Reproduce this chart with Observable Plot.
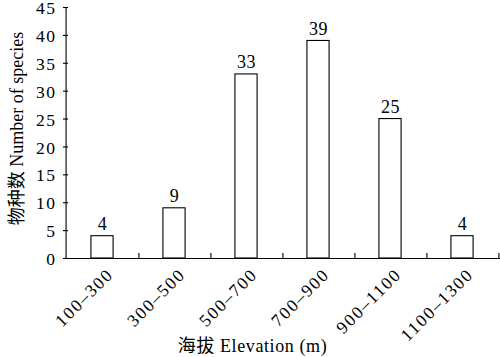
<!DOCTYPE html>
<html>
<head>
<meta charset="utf-8">
<script src="https://cdn.jsdelivr.net/npm/d3@7"></script>
<script src="https://cdn.jsdelivr.net/npm/@observablehq/plot@0.6"></script>
<style>
  html, body { margin: 0; padding: 0; background: #fff; }
  #chart svg { display: block; }
</style>
</head>
<body>
<div id="chart"></div>
<script>
const categories = ["100–300", "300–500", "500–700", "700–900", "900–1100", "1100–1300"];
const species = [4, 9, 33, 39, 25, 4];
const yTicks = [0, 5, 10, 15, 20, 25, 30, 35, 40, 45];
const xTitle = "海拔 Elevation (m)";
const yTitle = "物种数 Number of species";

const data = categories.map((c, i) => ({cat: c, n: species[i]}));

const W = 500, H = 357;
const mL = 63, mR = 0, mT = 7, mB = 99;
const step = (W - mL - mR) / categories.length;
const barW = 23;
const font = "'Liberation Serif', 'Times New Roman', 'Noto Sans CJK SC', serif";

const chart = Plot.plot({
  width: W,
  height: H,
  marginLeft: mL,
  marginRight: mR,
  marginTop: mT,
  marginBottom: mB,
  style: {fontFamily: font, fontSize: "18px", color: "#000", background: "#fff", overflow: "visible"},
  x: {type: "band", domain: categories, padding: 0, axis: null},
  y: {domain: [0, 45], axis: null},
  marks: [
    Plot.barY(data, {
      x: "cat", y: "n",
      fill: "white", stroke: "black", strokeWidth: 1.1,
      insetLeft: (step - barW) / 2, insetRight: (step - barW) / 2
    }),
    Plot.text(data, {
      x: "cat", y: "n", text: d => String(d.n),
      lineAnchor: "bottom", dy: -6, fontSize: 18, fill: "black"
    }),
    Plot.ruleX([categories[0]], {x: d => d, dx: -step / 2, y1: 0, y2: 45, stroke: "black", strokeWidth: 1.1}),
    Plot.tickY(yTicks, {y: d => d, stroke: "black", strokeWidth: 1.1,
      insetRight: W - mL - mR - 5}),
    Plot.text(yTicks, {y: d => d, text: d => String(d), frameAnchor: "left", textAnchor: "end",
      dx: -7, dy: 1, fontSize: 17.5, fill: "black"}),
    Plot.ruleY([0], {stroke: "black", strokeWidth: 1.1}),
    Plot.ruleX(categories, {x: d => d, y1: 0, y2: 0.9, dx: step / 2, stroke: "black", strokeWidth: 1.1}),
    Plot.text(categories, {x: d => d, y: 0, text: d => d, rotate: -45, textAnchor: "end",
      lineAnchor: "middle", dx: 8, dy: 13, fontSize: 17.5, fill: "black"}),
    Plot.text([xTitle], {frameAnchor: "bottom", text: d => d, textAnchor: "middle",
      dx: 252 - (mL + (W - mL - mR) / 2), dy: 93, lineAnchor: "bottom", fontSize: 18,
      fill: "black"}),
    Plot.text([yTitle], {frameAnchor: "left", text: d => d, rotate: -90, textAnchor: "middle",
      lineAnchor: "middle", dx: 17 - mL, dy: 128 - (mT + (H - mT - mB) / 2), fontSize: 18,
      fill: "black"})
  ]
});
// widen glyph spacing to mimic the stretched serif of the original
const spacings = ["0.6px", "1.5px", "1.8px", "0.6px", "0px"];
chart.querySelectorAll("g[aria-label='text']").forEach((g, i) => {
  if (spacings[i]) g.style.letterSpacing = spacings[i];
});
document.getElementById("chart").appendChild(chart);
</script>
</body>
</html>
